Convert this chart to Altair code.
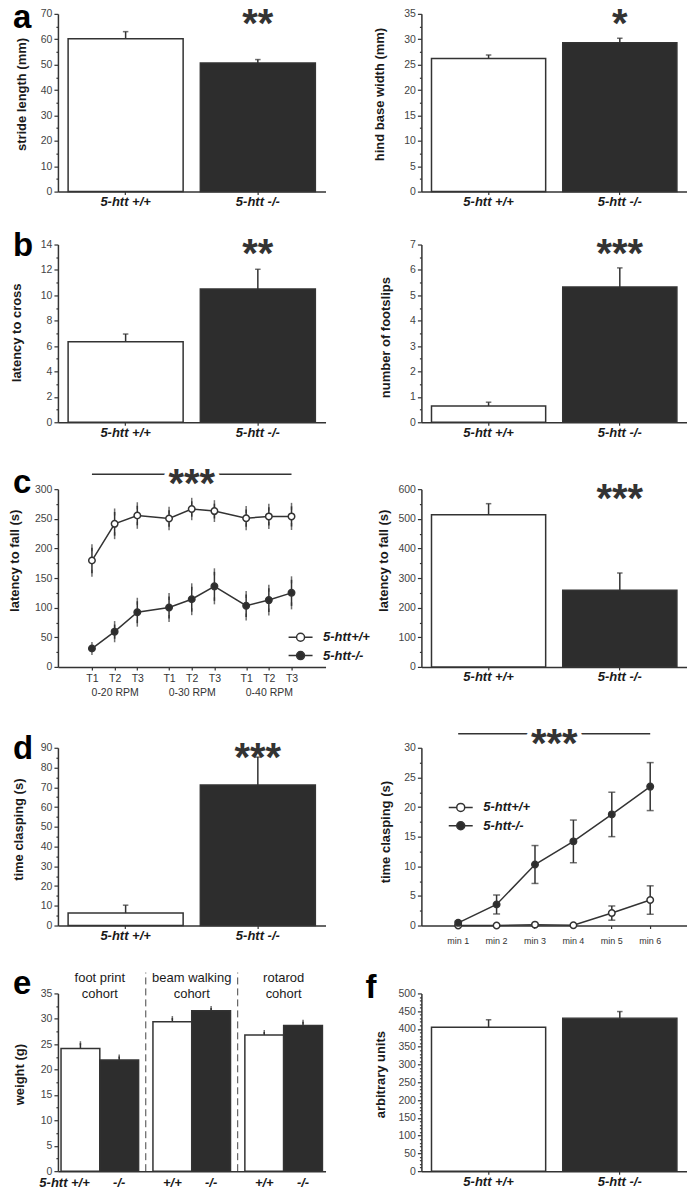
import json
import altair as alt
import pandas as pd

FONT = "Liberation Sans"
DARK = "#2d2d2d"
INK = "#333333"
TXT = "#1a1a1a"
LAB = "#444444"

W_L = 268
W_R = 266
H = 178
COL_GAP = 96
ROW_GAPS = [53, 67, 81, 68]
LETTER_SIZE = 33
STAR_SIZE = 40
STAR_DY = 23
LEG_PATH = "M-3,0L-1,0M1,0L3,0M-1,0A1,1,0,1,1,1,0A1,1,0,1,1,-1,0Z"

# ---------------- data ----------------
genotypes = ["5-htt +/+", "5-htt -/-"]
line_groups = ["5-htt+/+", "5-htt-/-"]
fills = ["#ffffff", DARK]

# a
stride_mean = [60.2, 50.6]
stride_sem = [2.8, 1.4]
stride_sig = ["", "**"]
base_mean = [26.2, 29.3]
base_sem = [0.7, 0.9]
base_sig = ["", "*"]

# b
cross_mean = [6.35, 10.5]
cross_sem = [0.6, 1.55]
cross_sig = ["", "**"]
slip_mean = [0.64, 5.33]
slip_sem = [0.15, 0.75]
slip_sig = ["", "***"]

# c
sessions = ["0-20 RPM", "0-30 RPM", "0-40 RPM"]
trials = ["T1", "T2", "T3"]
rot_wt_mean = [179.5, 241.5, 255.5, 250.5, 266.5, 263.0, 251.0, 254.0, 254.0]
rot_wt_sem = [21.5, 20.0, 16.5, 14.0, 13.0, 12.5, 14.5, 15.5, 17.0]
rot_ko_mean = [31.0, 59.5, 92.3, 100.3, 114.2, 136.0, 103.3, 112.8, 125.0]
rot_ko_sem = [5.0, 12.0, 18.5, 18.5, 21.0, 24.5, 19.0, 20.0, 22.0]
rot_sig = "***"
ROT_SIG_Y = 325
fall_mean = [514, 259]
fall_sem = [37, 58]
fall_sig = ["", "***"]

# d
clasp_mean = [6.3, 71.2]
clasp_sem = [4.0, 14.1]
clasp_sig = ["", "***"]
minutes = ["min 1", "min 2", "min 3", "min 4", "min 5", "min 6"]
min_wt_mean = [0.0, 0.0, 0.15, 0.05, 2.1, 4.3]
min_wt_sem = [0.1, 0.05, 0.15, 0.1, 1.2, 2.4]
min_ko_mean = [0.45, 3.55, 10.3, 14.2, 18.75, 23.45]
min_ko_sem = [0.3, 1.6, 3.2, 3.6, 3.75, 4.05]
min_sig = "***"
MIN_SIG_Y = 32.36

# e
cohorts = ["foot print\ncohort", "beam walking\ncohort", "rotarod\ncohort"]
weight_wt_mean = [24.15, 29.4, 26.8]
weight_wt_sem = [1.05, 0.75, 0.6]
weight_ko_mean = [21.9, 31.6, 28.7]
weight_ko_sem = [0.7, 0.55, 0.7]
weight_labels = ["5-htt +/+", "-/-", "+/+", "-/-", "+/+", "-/-"]
SEP_TOP = 39.1

# f
arb_mean = [404.6, 430.5]
arb_sem = [21.3, 18.5]
arb_sig = ["", ""]

# layout of grouped x positions (in bar/step units)
ROT_OUTER, ROT_STRIDE = 1.5, 3.4
E_OUTER, E_GAP = 0.08, 0.37


# ---------------- helpers ----------------
def y_axis(title, ymax, major, minor, title_x, title_frac):
    n = int(round(ymax / minor))
    vals = [round(i * minor, 4) for i in range(n + 1)]
    minor_test = f"abs(datum.value / {major} - round(datum.value / {major})) > 0.001"
    return alt.Axis(
        title=title, values=vals, tickCount=1000, grid=False, labelOverlap=False,
        labelExpr=f"({minor_test}) ? '' : format(datum.value, 'd')",
        tickSize={"condition": {"test": minor_test, "value": 2}, "value": 4},
        tickColor=INK, tickWidth=1.2, domainColor=INK, domainWidth=1.5,
        labelFont=FONT, labelFontSize=10.5, labelColor=LAB, labelPadding=2,
        titleFont=FONT, titleFontSize=13, titleFontWeight="bold", titleColor=TXT,
        titleX=-title_x, titleY=title_frac * H,
    )


x_axis_bar = alt.Axis(
    title=None, labelAngle=0, labelFont=FONT, labelFontSize=13, labelFontWeight="bold",
    labelFontStyle="italic", labelColor=TXT, tickSize=3, tickColor=INK, tickWidth=1.2,
    domainColor=INK, domainWidth=1.5, labelPadding=1,
)


def letter_title(t, dx, dy):
    return alt.TitleParams(
        text=t, anchor="start", frame="group", orient="top", offset=0, dx=dx, dy=dy,
        font=FONT, fontSize=LETTER_SIZE, fontWeight="bold", color="#000000", baseline="alphabetic",
    )


def line_legend(lx, ly):
    return alt.Legend(
        orient="none", legendX=lx, legendY=ly, title=None, symbolType=LEG_PATH, symbolSize=64,
        symbolStrokeColor=INK, symbolStrokeWidth=1.5, symbolOpacity=1, labelOffset=16,
        labelFont=FONT, labelFontSize=13, labelFontStyle="italic", labelFontWeight="bold",
        labelColor=TXT, rowPadding=3.4, padding=0,
    )


def star_layers(chart, x_enc, y_val, halo=False):
    layers = []
    if halo:
        layers.append(chart.mark_text(
            font=FONT, fontSize=STAR_SIZE, fontWeight="bold", fill="white", stroke="white",
            strokeWidth=9, baseline="alphabetic", dy=STAR_DY,
        ).encode(x=x_enc, y=alt.datum(y_val), text="t:N"))
    layers.append(chart.mark_text(
        font=FONT, fontSize=STAR_SIZE, fontWeight="bold", color=INK, baseline="alphabetic", dy=STAR_DY,
    ).encode(x=x_enc, y=alt.datum(y_val), text="t:N"))
    return layers


def bar_panel(means, sems, sig, ymax, major, minor, ytitle, title_x, title_frac, width,
              letter=None, ldx=-45, ldy=20):
    df = pd.DataFrame({"g": genotypes, "m": means, "s": sems, "t": sig})
    df["hi"] = df["m"] + df["s"]
    base = alt.Chart(df)
    xs = alt.Scale(domain=genotypes, paddingInner=0.13, paddingOuter=0.077)
    ys = alt.Scale(domain=[0, ymax], nice=False)
    yax = y_axis(ytitle, ymax, major, minor, title_x, title_frac)
    X = alt.X("g:N", scale=xs, axis=x_axis_bar, sort=None)
    bars = base.mark_bar(stroke=INK, strokeWidth=1.5).encode(
        x=X, y=alt.Y("m:Q", scale=ys, axis=yax),
        fill=alt.Fill("g:N", scale=alt.Scale(domain=genotypes, range=fills), legend=None),
    )
    err = base.mark_rule(color=INK, strokeWidth=1.5).encode(
        x=X, y=alt.Y("m:Q", scale=ys, axis=yax), y2="hi:Q")
    cap = base.mark_tick(color=INK, thickness=1.5, size=5.5).encode(
        x=X, y=alt.Y("hi:Q", scale=ys, axis=yax))
    layers = [bars, err, cap] + star_layers(base, X, ymax)
    ch = alt.layer(*layers).properties(width=width, height=H)
    if letter:
        ch = ch.properties(title=letter_title(letter, ldx, ldy))
    return ch


def rot_panel():
    rows = []
    nt = len(trials)
    for grp, ms, ss in ((line_groups[0], rot_wt_mean, rot_wt_sem),
                        (line_groups[1], rot_ko_mean, rot_ko_sem)):
        for k in range(len(ms)):
            rows.append({"grp": grp, "si": k // nt, "ti": k % nt, "idx": k, "m": ms[k],
                         "lo": ms[k] - ss[k], "hi": ms[k] + ss[k]})
    df = pd.DataFrame(rows)
    base = alt.Chart(df).transform_calculate(
        pos=f"{ROT_OUTER} + {ROT_STRIDE} * datum.si + datum.ti")
    xmax = 2 * ROT_OUTER + (len(sessions) - 1) * ROT_STRIDE + (nt - 1)
    tick_vals, lookup = [], {}
    for s, sname in enumerate(sessions):
        for t, tname in enumerate(trials):
            v = round(ROT_OUTER + ROT_STRIDE * s + t, 3)
            tick_vals.append(v)
            lookup[f"{v:.2f}"] = [tname, sname] if t == nt // 2 else tname
    x_axis = alt.Axis(
        title=None, values=tick_vals, tickCount=1000, labelOverlap=False, labelFlush=False,
        labelExpr=f"{json.dumps(lookup)}[format(datum.value, '.2f')]", grid=False,
        tickSize=3, tickColor=INK, tickWidth=1.2, labelPadding=4, labelFont=FONT,
        labelFontSize=10.5, labelColor=INK, labelLineHeight=13.5, domainColor=INK,
        domainWidth=1.5, labelAngle=0)
    xs = alt.Scale(domain=[0, xmax], nice=False, zero=False)
    X = alt.X("pos:Q", scale=xs, axis=x_axis)
    ys = alt.Scale(domain=[0, 300], nice=False)
    yax = y_axis("latency to fall (s)", 300, 50, 25, 36, 0.40)
    err = base.mark_rule(color=INK, strokeWidth=1.5).encode(
        x=X, y=alt.Y("lo:Q", scale=ys, axis=yax), y2="hi:Q")
    cap_lo = base.mark_tick(color=INK, thickness=1.5, size=7).encode(
        x=X, y=alt.Y("lo:Q", scale=ys, axis=yax))
    cap_hi = base.mark_tick(color=INK, thickness=1.5, size=7).encode(
        x=X, y=alt.Y("hi:Q", scale=ys, axis=yax))
    line = base.mark_line(color=INK, strokeWidth=1.5).encode(
        x=X, y=alt.Y("m:Q", scale=ys, axis=yax), detail="grp:N", order="idx:Q")
    pts = base.mark_circle(size=42, stroke=INK, strokeWidth=1.5, opacity=1).encode(
        x=X, y=alt.Y("m:Q", scale=ys, axis=yax),
        fill=alt.Fill("grp:N", scale=alt.Scale(domain=line_groups, range=fills),
                      legend=line_legend(236.5, 141.8)),
    )
    last = len(rot_wt_mean) - 1
    sig_line = base.transform_filter(
        f"datum.grp == '{line_groups[0]}' && (datum.idx == 0 || datum.idx == {last})"
    ).mark_line(color=INK, strokeWidth=1.5).encode(x=X, y=alt.datum(ROT_SIG_Y), order="idx:Q")
    star_base = base.transform_filter(
        f"datum.grp == '{line_groups[0]}' && datum.idx == {last // 2}"
    ).transform_calculate(t=f"'{rot_sig}'")
    layers = [err, cap_lo, cap_hi, line, pts, sig_line] + star_layers(star_base, X, ROT_SIG_Y, halo=True)
    return alt.layer(*layers).properties(width=W_L, height=H, title=letter_title("c", -45, 61))


def min_panel():
    rows = []
    for grp, ms, ss in ((line_groups[0], min_wt_mean, min_wt_sem),
                        (line_groups[1], min_ko_mean, min_ko_sem)):
        for k in range(len(ms)):
            rows.append({"grp": grp, "minute": minutes[k], "idx": k, "m": ms[k],
                         "lo": ms[k] - ss[k], "hi": ms[k] + ss[k]})
    df = pd.DataFrame(rows)
    base = alt.Chart(df)
    xs = alt.Scale(domain=minutes, paddingInner=0, paddingOuter=0.458)
    x_axis = alt.Axis(title=None, labelAngle=0, labelFont=FONT, labelFontSize=9, labelColor=INK,
                      tickSize=3, tickColor=INK, tickWidth=1.2, domainColor=INK, domainWidth=1.5,
                      labelPadding=8)
    X = alt.X("minute:N", scale=xs, axis=x_axis, sort=None)
    ys = alt.Scale(domain=[0, 30], nice=False)
    yax = y_axis("time clasping (s)", 30, 5, 2.5, 29, 0.472)
    err = base.mark_rule(color=INK, strokeWidth=1.5).encode(
        x=X, y=alt.Y("lo:Q", scale=ys, axis=yax), y2="hi:Q")
    cap_lo = base.mark_tick(color=INK, thickness=1.5, size=7).encode(
        x=X, y=alt.Y("lo:Q", scale=ys, axis=yax))
    cap_hi = base.mark_tick(color=INK, thickness=1.5, size=7).encode(
        x=X, y=alt.Y("hi:Q", scale=ys, axis=yax))
    line = base.mark_line(color=INK, strokeWidth=1.5).encode(
        x=X, y=alt.Y("m:Q", scale=ys, axis=yax), detail="grp:N", order="idx:Q")
    pts = base.mark_circle(size=42, stroke=INK, strokeWidth=1.5, opacity=1).encode(
        x=X, y=alt.Y("m:Q", scale=ys, axis=yax),
        fill=alt.Fill("grp:N", scale=alt.Scale(domain=line_groups, range=fills),
                      legend=line_legend(32.9, 53.2)),
    )
    sig_df = pd.DataFrame({"minute": [minutes[0], minutes[-1]], "y": [MIN_SIG_Y, MIN_SIG_Y]})
    sig_line = alt.Chart(sig_df).mark_line(color=INK, strokeWidth=1.5).encode(
        x=X, y=alt.Y("y:Q", scale=ys, axis=yax))
    star_base = alt.Chart(pd.DataFrame({"t": [min_sig]}))
    sx = alt.XDatum(minutes[len(minutes) // 2 - 1], bandPosition=1, type="nominal", scale=xs)
    layers = [err, cap_lo, cap_hi, line, pts, sig_line] + star_layers(star_base, sx, MIN_SIG_Y, halo=True)
    return alt.layer(*layers).properties(width=W_R, height=H)


def weight_panel():
    rows = []
    for i, c in enumerate(cohorts):
        for j, (ms, ss) in enumerate(((weight_wt_mean, weight_wt_sem),
                                      (weight_ko_mean, weight_ko_sem))):
            rows.append({"ci": i, "gi": j, "g": genotypes[j], "m": ms[i], "hi": ms[i] + ss[i],
                         "lab": weight_labels[2 * i + j], "k": 2 * i + j})
    df = pd.DataFrame(rows)
    ng = len(genotypes)
    stride = ng + E_GAP
    xmax = 2 * E_OUTER + len(cohorts) * ng + (len(cohorts) - 1) * E_GAP
    base = alt.Chart(df).transform_calculate(
        x0=f"{E_OUTER} + {stride} * datum.ci + datum.gi",
    ).transform_calculate(x1="datum.x0 + 1", xc="datum.x0 + 0.5")
    xs = alt.Scale(domain=[0, xmax], nice=False, zero=False)
    x_axis = alt.Axis(title=None, labels=False, ticks=False, grid=False, domainColor=INK, domainWidth=1.5)
    ys = alt.Scale(domain=[0, 35], nice=False)
    yax = y_axis("weight (g)", 35, 5, 2.5, 31.7, 0.454)
    XC = alt.X("xc:Q", scale=xs, axis=x_axis)
    bars = base.mark_bar(stroke=INK, strokeWidth=1.5).encode(
        x=alt.X("x0:Q", scale=xs, axis=x_axis), x2="x1:Q",
        y=alt.Y("m:Q", scale=ys, axis=yax), y2=alt.datum(0),
        fill=alt.Fill("g:N", scale=alt.Scale(domain=genotypes, range=fills), legend=None))
    err = base.mark_rule(color=INK, strokeWidth=1.5).encode(
        x=XC, y=alt.Y("m:Q", scale=ys, axis=yax), y2="hi:Q")
    cap = base.mark_tick(color=INK, thickness=1.5, size=4).encode(
        x=XC, y=alt.Y("hi:Q", scale=ys, axis=yax))
    lab_style = dict(font=FONT, fontSize=13, fontWeight="bold", fontStyle="italic", color=TXT,
                     baseline="top", dy=6)
    lab_first = base.transform_filter("datum.k == 0").mark_text(align="right", dx=9.4, **lab_style).encode(
        x=XC, y=alt.datum(0), text="lab:N")
    lab_rest = base.transform_filter("datum.k > 0").mark_text(align="center", **lab_style).encode(
        x=XC, y=alt.datum(0), text="lab:N")
    cdf = pd.DataFrame({"cohort": cohorts, "ci": list(range(len(cohorts)))})
    coh = alt.Chart(cdf).transform_calculate(
        cx=f"{E_OUTER} + {stride} * datum.ci + {ng / 2}"
    ).mark_text(
        font=FONT, fontSize=13, color=TXT, lineBreak="\n", lineHeight=16, baseline="top", dy=-21.8
    ).encode(x=alt.X("cx:Q", scale=xs, axis=x_axis), y=alt.datum(35), text="cohort:N")
    sep = alt.Chart(cdf).transform_filter("datum.ci > 0").transform_calculate(
        sx=f"{E_OUTER} + {stride} * datum.ci - {E_GAP / 2}"
    ).mark_rule(color="#444444", strokeWidth=1, strokeDash=[7, 4]).encode(
        x=alt.X("sx:Q", scale=xs, axis=x_axis), y=alt.datum(0), y2=alt.datum(SEP_TOP))
    return alt.layer(bars, err, cap, lab_first, lab_rest, coh, sep).properties(
        width=W_L, height=H, title=letter_title("e", -45, 55.2))


def spacer(h):
    return alt.Chart(pd.DataFrame({"v": [0]})).mark_point(opacity=0).encode(
        x=alt.value(0), y=alt.value(0)).properties(width=1, height=h)


a_l = bar_panel(stride_mean, stride_sem, stride_sig, 70, 10, 5, "stride length (mm)", 29.3, 0.451, W_L, "a", -45, 55.8)
a_r = bar_panel(base_mean, base_sem, base_sig, 35, 5, 2.5, "hind base width (mm)", 34.6, 0.451, W_R)
b_l = bar_panel(cross_mean, cross_sem, cross_sig, 14, 2, 1, "latency to cross", 34.3, 0.494, W_L, "b", -45, 53.6)
b_r = bar_panel(slip_mean, slip_sem, slip_sig, 7, 1, 0.5, "number of footslips", 29.3, 0.521, W_R)
c_l = rot_panel()
c_r = bar_panel(fall_mean, fall_sem, fall_sig, 600, 100, 50, "latency to fall (s)", 30.6, 0.40, W_R)
d_l = bar_panel(clasp_mean, clasp_sem, clasp_sig, 90, 10, 5, "time clasping (s)", 32.6, 0.458, W_L, "d", -45, 53.7)
d_r = min_panel()
e_p = weight_panel()
f_p = bar_panel(arb_mean, arb_sem, arb_sig, 500, 50, 10, "arbitrary units", 34.3, 0.454, W_R, "f", -56, 46.7)

cells = [a_l, a_r, spacer(ROW_GAPS[0]), spacer(ROW_GAPS[0]),
         b_l, b_r, spacer(ROW_GAPS[1]), spacer(ROW_GAPS[1]),
         c_l, c_r, spacer(ROW_GAPS[2]), spacer(ROW_GAPS[2]),
         d_l, d_r, spacer(ROW_GAPS[3]), spacer(ROW_GAPS[3]),
         e_p, f_p]

chart = alt.concat(
    *cells, columns=2, spacing={"row": 0, "column": COL_GAP}, bounds="flush", align="each"
).resolve_scale(
    fill="independent"
).resolve_legend(
    fill="independent"
).properties(
    padding={"top": -8, "left": 0, "right": 0, "bottom": 0}, background="white"
).configure(font=FONT).configure_view(stroke=None)

chart.save("out.html", embed_options={"renderer": "svg", "actions": False})
